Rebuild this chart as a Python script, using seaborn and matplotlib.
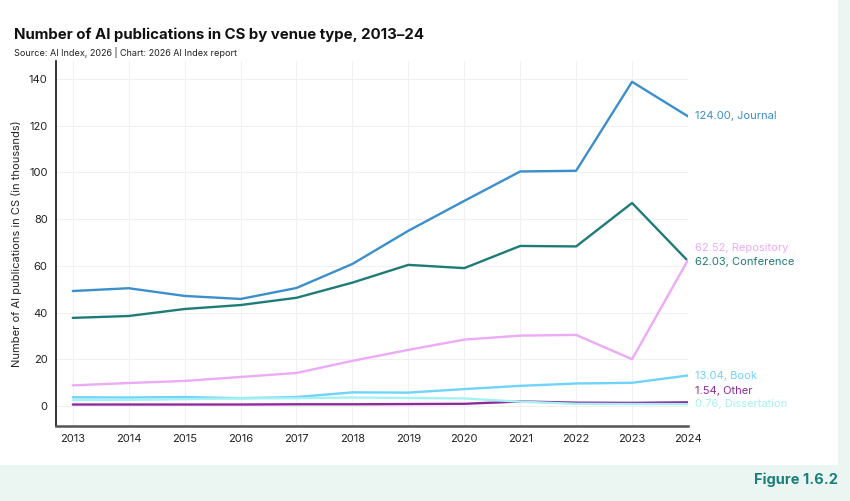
import numpy as np
import pandas as pd
import matplotlib.pyplot as plt
import seaborn as sns
from matplotlib.patches import Rectangle

years = list(range(2013, 2025))

journal = [49.2, 50.4, 47.1, 45.8, 50.5, 60.8, 75.0, 87.8, 100.4, 100.7, 138.8, 124.00]
conference = [37.7, 38.5, 41.5, 43.2, 46.3, 52.8, 60.4, 59.0, 68.5, 68.3, 86.9, 62.03]
repository = [8.8, 9.8, 10.7, 12.4, 14.1, 19.3, 24.0, 28.4, 30.1, 30.4, 20.0, 62.52]
book = [3.7, 3.6, 3.8, 3.3, 3.8, 5.8, 5.7, 7.2, 8.6, 9.6, 9.9, 13.04]
other = [0.6, 0.6, 0.6, 0.6, 0.7, 0.7, 0.8, 0.9, 1.9, 1.4, 1.3, 1.54]
dissertation = [2.5, 2.6, 2.9, 3.2, 3.3, 3.6, 3.4, 3.2, 1.8, 0.9, 0.8, 0.76]

series_names = ['Journal', 'Conference', 'Repository', 'Book', 'Other', 'Dissertation']
series_values = [journal, conference, repository, book, other, dissertation]
series_colors = ['#3b8fcc', '#1f7b78', '#ecaaf7', '#6fd3fb', '#8e2b9c', '#a6f1f2']
# where the end label sits (value units), to keep labels from overlapping
label_y = [124.0, 61.8, 67.5, 12.8, 6.5, 0.7]

df = pd.DataFrame({'year': years * len(series_names),
                   'venue': np.repeat(series_names, len(years)),
                   'value': sum(series_values, [])})

sns.set_style('white')
plt.rcParams['font.family'] = ['Inter', 'DejaVu Sans']

fig = plt.figure(figsize=(8.5, 5.01), dpi=100)
fig.patch.set_facecolor('#ebf5f2')
fig.patches.append(Rectangle((0, 1 - 465 / 501), 838 / 850, 465 / 501,
                             transform=fig.transFigure, facecolor='white',
                             edgecolor='none', zorder=-10))

ax = fig.add_axes([56 / 850, 1 - 426 / 501, (688 - 56) / 850, (426 - 61) / 501])
ax.set_facecolor('none')

sns.lineplot(data=df, x='year', y='value', hue='venue', hue_order=series_names,
             palette=series_colors, linewidth=1.7, legend=False, ax=ax)

for name, vals, col, ly in zip(series_names, series_values, series_colors, label_y):
    ax.text(2024.12, ly, f'{vals[-1]:.2f}, {name}', color=col, fontsize=8,
            va='center', ha='left', clip_on=False)

ax.set_xlim(2012.7, 2024)
ax.set_ylim(-8.6, 147.7)
ax.set_xticks(years)
ax.set_yticks(range(0, 141, 20))
ax.tick_params(axis='both', length=0, labelsize=8, colors='#222222', pad=6)
ax.grid(True, color='#f0f0f0', linewidth=0.8)
ax.set_axisbelow(True)
ax.set_xlabel('')
ax.set_ylabel('Number of AI publications in CS (in thousands)', fontsize=8,
              color='#222222', labelpad=5)

sns.despine(ax=ax, top=True, right=True)
ax.spines['left'].set_color('#111111')
ax.spines['left'].set_linewidth(1.2)
ax.spines['bottom'].set_color('#555555')
ax.spines['bottom'].set_linewidth(1.8)

fig.text(14 / 850, 1 - 35 / 501, 'Number of AI publications in CS by venue type, 2013–24',
         fontsize=10.8, fontweight='bold', color='#111111', va='center')
fig.text(14 / 850, 1 - 53 / 501, 'Source: AI Index, 2026 | Chart: 2026 AI Index report',
         fontsize=6.5, color='#222222', va='center')
fig.text(838 / 850, 1 - 480 / 501, 'Figure 1.6.2', fontsize=10.5, fontweight='bold',
         color='#1b7f7a', ha='right', va='center')

fig.savefig('out.png', dpi=100)
